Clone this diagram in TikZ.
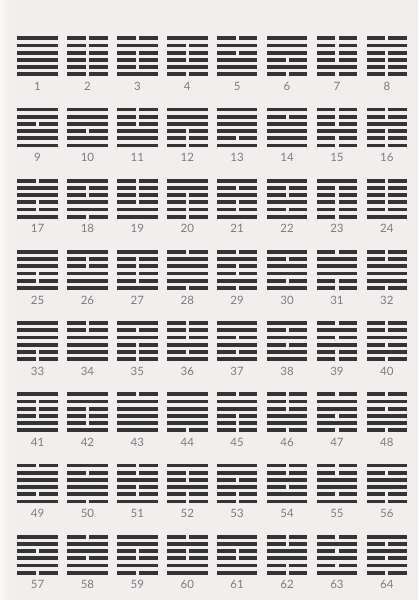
\documentclass[tikz,border=0pt]{standalone}
\usepackage{fontspec}
\setmainfont{Lato}
\definecolor{bg}{RGB}{243,238,238}
\definecolor{bgedge}{RGB}{250,248,248}
\definecolor{ink}{RGB}{52,52,52}
\definecolor{num}{RGB}{125,125,125}
\tikzset{
  barline/.style={fill=ink},
  numlabel/.style={text=num, font=\fontsize{11.5}{11.5}\selectfont, inner sep=0pt}
}
\begin{document}
\begin{tikzpicture}[x=1pt,y=-1pt]
\fill[bg] (0,0) rectangle (418,600);
\shade[left color=bgedge, right color=bg] (0,0) rectangle (10,600);
\useasboundingbox (0,0) rectangle (418,600);
\foreach \a/\b/\c/\d/\e/\f [count=\n] in {
1/1/1/1/1/1, 0/0/0/0/0/0, 0/1/0/0/0/1, 1/0/0/0/1/0, 0/1/0/1/1/1, 1/1/1/0/1/0, 0/0/0/0/1/0, 0/1/0/0/0/0,
1/1/0/1/1/1, 1/1/1/0/1/1, 0/0/0/1/1/1, 1/1/1/0/0/0, 1/1/1/1/0/1, 1/0/1/1/1/1, 0/0/0/1/0/0, 0/0/1/0/0/0,
0/1/1/0/0/1, 1/0/0/1/1/0, 0/0/0/0/1/1, 1/1/0/0/0/0, 1/0/1/0/0/1, 1/0/0/1/0/1, 1/0/0/0/0/0, 0/0/0/0/0/1,
1/1/1/0/0/1, 1/0/0/1/1/1, 1/0/0/0/0/1, 0/1/1/1/1/0, 0/1/0/0/1/0, 1/0/1/1/0/1, 0/1/1/1/0/0, 0/0/1/1/1/0,
1/1/1/1/0/0, 0/0/1/1/1/1, 1/0/1/0/0/0, 0/0/0/1/0/1, 1/1/0/1/0/1, 1/0/1/0/1/1, 0/1/0/1/0/0, 0/0/1/0/1/0,
1/0/0/0/1/1, 1/1/0/0/0/1, 0/1/1/1/1/1, 1/1/1/1/1/0, 0/1/1/0/0/0, 0/0/0/1/1/0, 0/1/1/0/1/0, 0/1/0/1/1/0,
0/1/1/1/0/1, 1/0/1/1/1/0, 0/0/1/0/0/1, 1/0/0/1/0/0, 1/1/0/1/0/0, 0/0/1/0/1/1, 0/0/1/1/0/1, 1/0/1/1/0/0,
1/1/0/1/1/0, 0/1/1/0/1/1, 1/1/0/0/1/0, 0/1/0/0/1/1, 1/1/0/0/1/1, 0/0/1/1/0/0, 0/1/0/1/0/1, 1/0/1/0/1/0}{
  \pgfmathsetmacro\cx{17.3+49.9*mod(\n-1,8)}
  \pgfmathsetmacro\ty{38.3+71.2*int((\n-1)/8)}
  \foreach \v [count=\k from 0] in {\a,\b,\c,\d,\e,\f}{
    \pgfmathsetmacro\ly{\ty+7.2*\k-1.9}
    \ifnum\v=1
      \fill[barline] (\cx,\ly) rectangle ++(40.5,3.8);
    \else
      \fill[barline] (\cx,\ly) rectangle ++(18.7,3.8);
      \fill[barline] (\cx+21.8,\ly) rectangle ++(18.7,3.8);
    \fi
  }
  \node[numlabel] (n\n) at (\cx+20.25,\ty+48) {\n};
}
\end{tikzpicture}
\end{document}
